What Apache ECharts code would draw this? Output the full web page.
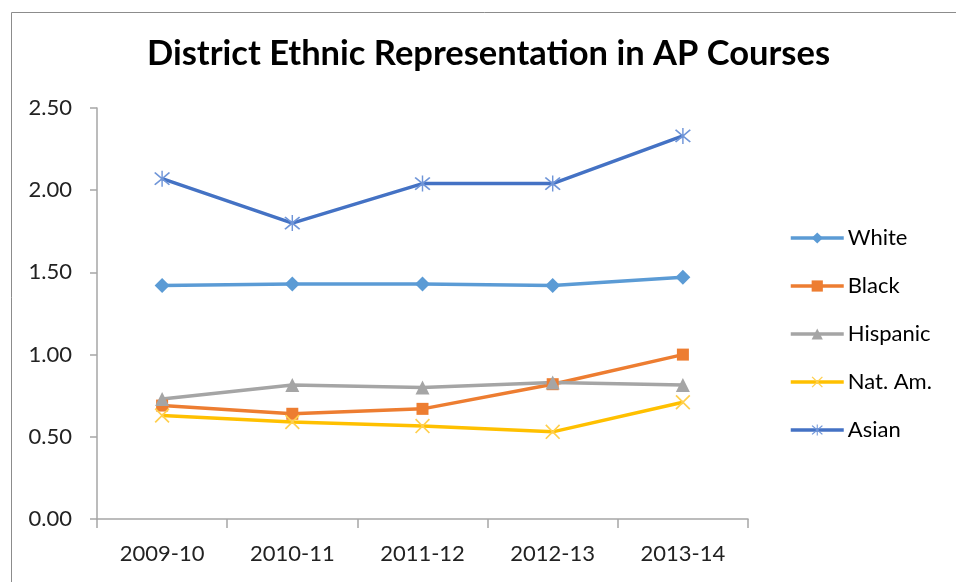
<!DOCTYPE html>
<html>
<head>
<meta charset="utf-8">
<script src="https://cdn.jsdelivr.net/npm/echarts@6/dist/echarts.min.js"></script>
<style>
html,body{margin:0;padding:0;background:#fff;}
#chart{width:956px;height:582px;}
</style>
</head>
<body>
<div id="chart"></div>
<script>
const titleText = 'District Ethnic Representation in AP Courses';
const categories = ['2009-10', '2010-11', '2011-12', '2012-13', '2013-14'];
const yTicks = [0, 0.5, 1.0, 1.5, 2.0, 2.5];
const white = [1.42, 1.43, 1.43, 1.42, 1.47];
const black = [0.69, 0.64, 0.67, 0.82, 1.00];
const hispanic = [0.73, 0.815, 0.80, 0.83, 0.815];
const natAm = [0.63, 0.59, 0.565, 0.53, 0.71];
const asian = [2.07, 1.80, 2.04, 2.04, 2.33];

const xPath = 'path://M0,0.8 L0.8,0 L5,4.2 L9.2,0 L10,0.8 L5.8,5 L10,9.2 L9.2,10 L5,5.8 L0.8,10 L0,9.2 L4.2,5 Z';
const starPath = 'path://M0,0.8 L0.8,0 L5,4.2 L9.2,0 L10,0.8 L5.8,5 L10,9.2 L9.2,10 L5,5.8 L0.8,10 L0,9.2 L4.2,5 Z M4.55,-1 L5.45,-1 L5.45,11 L4.55,11 Z';

const font = 'Lato, "Open Sans", sans-serif';
const chart = echarts.init(document.getElementById('chart'), null, {renderer: 'canvas'});

function mk(name, data, color, symbol, size, symColor) {
  return {
    name: name, type: 'line', data: data, symbol: symbol, symbolSize: size,
    lineStyle: {color: color, width: 3.5},
    itemStyle: {color: symColor || color},
    emphasis: {disabled: true},
    z: 2
  };
}

chart.setOption({
  animation: false,
  backgroundColor: '#fff',
  graphic: [{
    type: 'rect', left: 9, top: 10, shape: {width: 960, height: 590},
    style: {fill: 'none', stroke: '#8c8c8c', lineWidth: 1}, silent: true, z: -1
  }],
  title: {
    text: titleText, left: 147, top: 36, padding: 0,
    textStyle: {fontFamily: font, fontWeight: 'bold', fontSize: 34.5, color: '#000'}
  },
  grid: {left: 97, top: 108, right: 208, bottom: 63},
  legend: {
    orient: 'vertical', left: 789, top: 227, padding: 0,
    itemWidth: 53, itemHeight: 14, itemGap: 26,
    lineStyle: {width: 3.5},
    textStyle: {fontFamily: font, fontSize: 22, color: '#000', padding: [0, 0, 0, -1]},
    data: ['White', 'Black', 'Hispanic', 'Nat. Am.', 'Asian']
  },
  xAxis: {
    type: 'category', data: categories, boundaryGap: true,
    axisLine: {lineStyle: {color: '#a6a6a6', width: 1.5}},
    axisTick: {show: true, length: 9, lineStyle: {color: '#a6a6a6', width: 1.5}},
    axisLabel: {fontFamily: font, fontSize: 22, color: '#222', margin: 24}
  },
  yAxis: {
    type: 'value', min: yTicks[0], max: yTicks[yTicks.length - 1], interval: 0.5,
    axisLine: {show: true, lineStyle: {color: '#a6a6a6', width: 1.5}},
    axisTick: {show: true, length: 7, lineStyle: {color: '#a6a6a6', width: 1.5}},
    splitLine: {show: false},
    axisLabel: {fontFamily: font, fontSize: 22, color: '#222', margin: 25,
      formatter: v => v.toFixed(2)}
  },
  series: [
    mk('White', white, '#5b9bd5', 'diamond', 15),
    mk('Black', black, '#ed7d31', 'rect', 12),
    mk('Hispanic', hispanic, '#a5a5a5', 'triangle', 14),
    mk('Nat. Am.', natAm, '#ffc000', xPath, 15, '#ffcf4d'),
    mk('Asian', asian, '#4472c4', starPath, 16, '#6f95d8')
  ]
});
</script>
</body>
</html>
